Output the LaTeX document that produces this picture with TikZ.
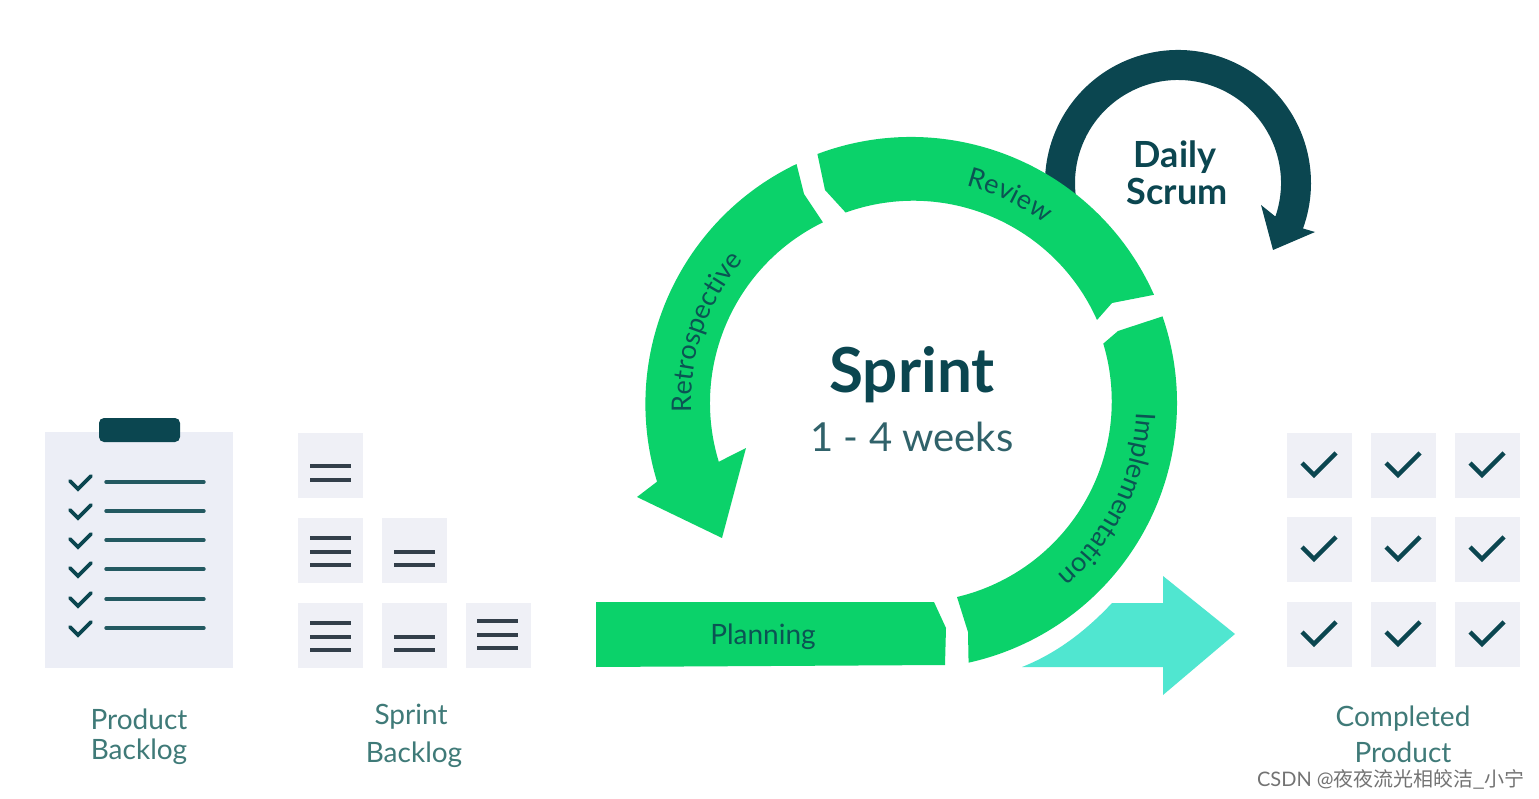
\documentclass[tikz,border=0pt]{standalone}
\usepackage{fontspec}
\setmainfont{Lato}
\newfontfamily\cjk{Noto Sans CJK SC}
\usetikzlibrary{decorations.text}
\definecolor{ringgreen}{HTML}{0BD26A}
\definecolor{deepteal}{HTML}{0B4650}
\definecolor{aqua}{HTML}{50E6D0}
\definecolor{paper}{HTML}{ECEEF6}
\definecolor{tilepaper}{HTML}{EFF0F6}
\definecolor{labelteal}{HTML}{3F7A78}
\definecolor{barcol}{HTML}{333F4A}
\newcommand{\ringfont}{\fontsize{27}{27}\selectfont}
\tikzset{
  x=1pt,y=-1pt,
  ring/.style={fill=ringgreen,draw=none},
  tile/.style={fill=tilepaper,draw=none,minimum width=65pt,minimum height=65pt,inner sep=0pt,outer sep=0pt},
  bar/.style={draw=barcol,line width=3.8pt},
  tick/.style={draw=deepteal,line width=3.6pt,line cap=round,line join=miter},
  rule/.style={draw=deepteal!90!white,line width=3.4pt,line cap=round},
  caption/.style={text=labelteal,font=\fontsize{28}{28}\selectfont,inner sep=0pt,anchor=center},
  ringtext/.style={decorate,decoration={text along path,text color=deepteal!90!ringgreen,text align=center,text={#1}}},
}
\newcommand{\backbars}[2]{%
  \foreach \yy in {#2}{\draw[bar] (#1,\yy) -- ++(41,0);}}
\newcommand{\donetile}[3]{%
  \node[tile] (#3) at (#1,#2) {};
  \draw[draw=deepteal,line width=4.4pt,line join=miter] (#1-17,#2-2) -- (#1-5,#2+10) -- (#1+17,#2-12);}
\begin{document}
\begin{tikzpicture}
\useasboundingbox (0,0) rectangle (1539,799);
\fill[white] (0,0) rectangle (1539,799);

% Product backlog
\fill[paper] (45,432) rectangle (233,668);
\fill[deepteal,rounded corners=5pt] (99,442) -- (99,418) -- (180,418) -- (180,442) -- cycle;
\foreach \yy in {482,511,540,569,599,628}{
  \draw[tick] (70,\yy-1) -- (78,\yy+7) -- (91,\yy-6);
  \draw[rule] (106,\yy) -- (204,\yy);
}
\node[caption] (pb1) at (139,719) {Product};
\node[caption] (pb2) at (139,752) {Backlog};

% Sprint backlog
\node[tile] (s1) at (330,465) {};
\node[tile] (s2) at (330,550) {};
\node[tile] (s3) at (414,550) {};
\node[tile] (s4) at (330,635) {};
\node[tile] (s5) at (414,635) {};
\node[tile] (s6) at (498,635) {};
\backbars{310}{466,480}
\backbars{310}{538,552,565}
\backbars{394}{552,565}
\backbars{310}{623,637,650}
\backbars{394}{637,650}
\backbars{477}{621,635,648}
\node[caption] (sb1) at (411,717) {Sprint};
\node[caption] (sb2) at (414,755) {Backlog};

% Completed product
\donetile{1319}{465}{c11}\donetile{1403}{465}{c12}\donetile{1487}{465}{c13}
\donetile{1319}{549}{c21}\donetile{1403}{549}{c22}\donetile{1487}{549}{c23}
\donetile{1319}{634}{c31}\donetile{1403}{634}{c32}\donetile{1487}{634}{c33}
\node[caption] (cp1) at (1403,719) {Completed};
\node[caption] (cp2) at (1403,752) {Product};

% Hand-over arrow
\fill[aqua] (1022,667) -- (1163,667) -- (1163,695) -- (1235,634) -- (1163,576) -- (1163,603) -- (1112,603)
  .. controls (1085,632) and (1055,654) .. cycle;

% Daily scrum loop
\begin{scope}[shift={(1178,183)}]
\fill[deepteal] (195:133pt) arc[start angle=195,end angle=-20,radius=133pt]
  -- (1315-1178,232-183) -- (1273-1178,250-183) -- (1261-1178,205-183) -- (-19:103pt)
  arc[start angle=-19,end angle=195,radius=103pt] -- cycle;
\end{scope}

% Sprint ring
\begin{scope}[shift={(911,403)}]
\fill[ring] (110.6:266pt) arc[start angle=110.6,end angle=24,radius=266pt]
  -- (1112-911,303-403) -- (1097-911,320-403) arc[start angle=24,end angle=109.7,radius=201pt]
  -- (825-911,190-403) -- cycle;
\fill[ring] (115.6:265pt) arc[start angle=115.6,end angle=197,radius=266pt]
  -- (637-911,497-403) -- (722-911,538-403) -- (746-911,448-403) -- (197:201pt)
  arc[start angle=197,end angle=116,radius=201pt]
  -- (804-911,194-403) -- cycle;
\fill[ring] (19:266pt) arc[start angle=19,end angle=-77.5,radius=266pt]
  -- (968-911,632-403) -- (957-911,597-403) arc[start angle=-76.7,end angle=16.7,radius=201pt]
  -- (1118-911,331-403) -- cycle;
\path[ringtext={|\ringfont|Retrospective}] (181:220pt) arc[start angle=181,end angle=141,radius=220pt];
\path[ringtext={|\ringfont|Review}] (75:224pt) arc[start angle=75,end angle=54,radius=224pt];
\path[ringtext={|\ringfont|Implementation}] (-3:226pt) arc[start angle=-3,end angle=-49,radius=226pt];
\end{scope}

% Planning bar
\fill[ring] (596,602) -- (934,602) -- (946,628) -- (945,665) -- (596,667) -- cycle;
\node[text=deepteal!90!ringgreen,font=\fontsize{28}{28}\selectfont,inner sep=0pt] (plan) at (763,637) {Planning};

% Centre labels
\node[text=deepteal,font=\fontsize{62}{62}\selectfont\bfseries,inner sep=0pt] (sprint) at (912,375) {Sprint};
\node[text=deepteal!85!white,font=\fontsize{40}{40}\selectfont,inner sep=0pt] (weeks) at (912,437) {1 - 4 weeks};
\node[text=deepteal,font=\fontsize{36}{36}\selectfont\bfseries,inner sep=0pt] (ds1) at (1175,157) {Daily};
\node[text=deepteal,font=\fontsize{36}{36}\selectfont\bfseries,inner sep=0pt] (ds2) at (1177,191) {Scrum};

% Watermark
\node[text=black!55,font=\fontsize{20}{20}\selectfont,inner sep=0pt,anchor=east] (mark) at (1525,779) {CSDN @{\cjk 夜夜流光相皎洁\_小宁}};
\end{tikzpicture}
\end{document}
